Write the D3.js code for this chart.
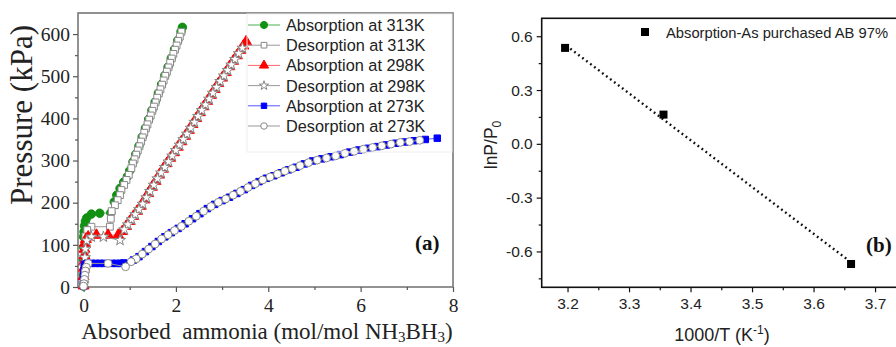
<!DOCTYPE html>
<html><head><meta charset="utf-8">
<script src="https://cdn.jsdelivr.net/npm/d3@7"></script>
<style>body{margin:0;background:#fff}svg{display:block}</style>
</head><body>
<svg id="c" width="896" height="347"></svg>
<script>
// ---------- Panel (a) data: [absorbed ammonia, pressure kPa] ----------
const abs313 = [[0,2],[0,30],[0,65],[0,95],[0,119],[0.01,131],[0.02,145],[0.04,156],[0.07,164],[0.17,173],[0.35,175],[0.59,176],
 [0.665,202],[0.72,218],[0.79,234],[0.87,249],[0.95,262],[1.00,276],[1.07,297],[1.13,315],[1.20,335],[1.27,356],[1.34,377],[1.41,398],
 [1.48,419],[1.55,439],[1.62,460],[1.69,481],[1.76,502],[1.83,522],[1.90,543],[1.97,564],[2.04,585],[2.11,606],[2.14,616]];
const des313 = [[2.12,605],[2.085,594],[2.05,584],[2.015,573],[1.98,563],[1.945,553],[1.91,542],[1.875,532],[1.84,521],[1.805,511],
 [1.77,501],[1.735,490],[1.70,480],[1.665,469],[1.63,459],[1.595,449],[1.56,438],[1.525,428],[1.49,418],[1.455,407],[1.42,397],
 [1.385,386],[1.35,376],[1.315,366],[1.28,355],[1.245,345],[1.21,334],[1.175,324],[1.14,314],[1.105,303],[1.07,293],[1.035,282],
 [0.98,266],[0.93,254],[0.88,242],[0.82,230],[0.79,218],[0.74,206],[0.68,194],[0.61,180],[0.59,162],[0.57,143],[0.17,143],
 [0.08,135],[0.04,120],[0.03,100],[0.02,80],[0.02,60],[0.01,40],[0.01,20],[0,5]];
const abs298 = [[0,3],[0,25],[0.01,45],[0.01,60],[0.02,75],[0.02,90],[0.03,104],[0.05,113],[0.10,119],[0.28,123],[0.53,123],[0.75,123],
 [0.84,132],[0.92,144],[1.00,156],[1.08,168],[1.16,180],[1.24,192],[1.32,207],[1.40,222],[1.48,237],[1.56,251],[1.64,266],[1.72,280],
 [1.80,293],[1.88,306],[1.96,319],[2.04,332],[2.12,345],[2.20,358],[2.28,372],[2.36,386],[2.44,400],[2.52,414],[2.60,428],[2.68,441],
 [2.76,455],[2.84,469],[2.92,483],[3.00,496],[3.08,509],[3.16,523],[3.24,536],[3.32,549],[3.40,562],[3.46,572],[3.52,582]];
const des298 = [[3.44,567],[3.36,554],[3.28,540],[3.20,527],[3.12,514],[3.04,501],[2.96,488],[2.88,474],[2.80,460],[2.72,446],[2.64,432],
 [2.56,419],[2.48,405],[2.40,391],[2.32,377],[2.24,363],[2.16,350],[2.08,337],[2.00,324],[1.92,311],[1.84,297],[1.76,284],[1.68,271],
 [1.60,257],[1.52,242],[1.44,227],[1.36,212],[1.28,197],[1.20,184],[1.12,172],[1.04,160],[0.96,148],[0.88,136],[0.79,111],[0.43,119],
 [0.17,119],[0.07,110],[0.04,90],[0.03,70],[0.02,50],[0.01,30],[0,8]];
const abs273 = [[0,2],[0,14],[0,26],[0.01,38],[0.02,48],[0.03,54],[0.08,56],[0.17,56],[0.26,56],[0.35,56],[0.44,56],[0.62,56],[0.71,56],
 [0.80,56],[0.87,57],[1.08,64],[1.20,72],[1.34,84],[1.48,96],[1.62,108],[1.76,119],[1.90,129],[2.05,139],[2.20,150],[2.36,162],
 [2.52,174],[2.68,186],[2.84,196],[3.00,205],[3.16,213],[3.32,222],[3.48,231],[3.64,241],[3.80,250],[3.96,258],[4.12,264],[4.28,271],
 [4.44,278],[4.60,284],[4.78,292],[4.96,299],[5.16,304],[5.36,309],[5.56,314],[5.76,320],[5.96,325],[6.16,329],[6.36,333],[6.56,337],
 [6.76,341],[6.96,344],[7.16,347],[7.40,350],[7.66,353]];
const des273 = [[7.28,348],[7.06,345],[6.86,343],[6.66,339],[6.46,335],[6.26,331],[6.06,327],[5.86,322],[5.66,317],[5.46,311],[5.26,306],
 [5.06,301],[4.87,295],[4.69,288],[4.52,281],[4.36,275],[4.20,268],[4.04,261],[3.88,254],[3.72,245],[3.56,236],[3.40,227],[3.24,218],
 [3.08,209],[2.92,201],[2.76,191],[2.60,180],[2.44,168],[2.28,156],[2.12,144],[1.97,134],[1.83,124],[1.69,114],[1.55,102],[1.41,90],
 [1.27,78],[1.14,67],[1.03,60],[0.91,48],[0.53,56],[0.10,56],[0.06,47],[0.04,38],[0.03,28],[0.02,18],[0.01,8],[0,2]];
const seriesNames = ["Absorption at 313K","Desorption at 313K","Absorption at 298K","Desorption at 298K","Absorption at 273K","Desorption at 273K"];
const xTicksA = [0,2,4,6,8];
const yTicksA = [0,100,200,300,400,500,600];

// ---------- Panel (b) data ----------
const invT = [3.196, 3.356, 3.661];
const lnP = [0.535, 0.163, -0.670];
const legendB = "Absorption-As purchased AB 97%";
const xTicksB = [3.2,3.3,3.4,3.5,3.6,3.7];
const yTicksB = [-0.6,-0.3,0.0,0.3,0.6];

const svg = d3.select('#c');
const SERIF = "'Liberation Serif','Times New Roman',serif";
const SANS = "'Liberation Sans',Arial,sans-serif";

// ================= Panel (a) =================
const xA = d3.scaleLinear().domain([-0.12,8]).range([78,453]);
const yA = d3.scaleLinear().domain([0,650]).range([287,13]);
const gA = svg.append('g');

gA.append('rect').attr('x',78).attr('y',13).attr('width',375).attr('height',274)
  .attr('fill','none').attr('stroke','#777').attr('stroke-width',1.6);

function styleAxis(g, font, size){
  g.select('.domain').remove();
  g.selectAll('line').attr('stroke','#555').attr('stroke-width',1.2);
  g.selectAll('text').attr('font-family',font).attr('font-size',size).attr('fill','#222');
}
const axXA = gA.append('g').attr('transform','translate(0,287)')
  .call(d3.axisBottom(xA).tickValues(xTicksA).tickSize(5).tickPadding(6).tickFormat(d3.format('d')));
styleAxis(axXA, SERIF, 19.5);
const axXAm = gA.append('g').attr('transform','translate(0,287)')
  .call(d3.axisBottom(xA).tickValues([1,3,5,7]).tickSize(3).tickFormat(''));
styleAxis(axXAm, SERIF, 19.5);
const axYA = gA.append('g').attr('transform','translate(78,0)')
  .call(d3.axisLeft(yA).tickValues(yTicksA).tickSize(5).tickPadding(3).tickFormat(d3.format('d')));
styleAxis(axYA, SERIF, 19.5);
const axYAm = gA.append('g').attr('transform','translate(78,0)')
  .call(d3.axisLeft(yA).tickValues([50,150,250,350,450,550]).tickSize(3).tickFormat(''));
styleAxis(axYAm, SERIF, 19.5);

gA.append('text').attr('transform','translate(32,115) rotate(-90)').attr('text-anchor','middle')
  .attr('font-family',SERIF).attr('font-size',31).attr('fill','#222').text('Pressure (kPa)');
const xt = gA.append('text').attr('x',267).attr('y',339).attr('text-anchor','middle')
  .attr('font-family',SERIF).attr('font-size',23).attr('fill','#222');
xt.append('tspan').text('Absorbed\u00a0 ammonia (mol/mol NH');
xt.append('tspan').attr('font-size',15).attr('dy',3).text('3');
xt.append('tspan').attr('dy',-3).text('BH');
xt.append('tspan').attr('font-size',15).attr('dy',3).text('3');
xt.append('tspan').attr('dy',-3).text(')');

gA.append('text').attr('x',415).attr('y',250).attr('font-family',SERIF).attr('font-weight','bold')
  .attr('font-size',21).attr('fill','#111').text('(a)');

const styles = [
  {data:abs313, line:'#4caf50', type:d3.symbolCircle, size:56, fill:'#129012', stroke:'#129012'},
  {data:des313, line:'#999', type:d3.symbolSquare, size:46, fill:'#fff', stroke:'#888'},
  {data:abs298, line:'#f66', type:d3.symbolTriangle, size:52, fill:'#f00', stroke:'#f00'},
  {data:des298, line:'#999', type:d3.symbolStar, size:38, fill:'#fff', stroke:'#888'},
  {data:abs273, line:'#55f', type:d3.symbolSquare, size:42, fill:'#0000ff', stroke:'#0000ff'},
  {data:des273, line:'#999', type:d3.symbolCircle, size:48, fill:'#fff', stroke:'#888'}
];
const lineA = d3.line().x(d=>xA(d[0])).y(d=>yA(d[1]));
styles.forEach(s=>{
  const g = gA.append('g');
  g.append('path').attr('d',lineA(s.data)).attr('fill','none').attr('stroke',s.line).attr('stroke-width',1);
  g.selectAll('path.m').data(s.data).join('path').attr('class','m')
    .attr('transform',d=>`translate(${xA(d[0])},${yA(d[1])})`)
    .attr('d',d3.symbol().type(s.type).size(s.size))
    .attr('fill',s.fill).attr('stroke',s.stroke).attr('stroke-width',1);
});

const legA = gA.append('g');
legA.append('rect').attr('x',247).attr('y',14).attr('width',205).attr('height',138)
  .attr('fill','none').attr('stroke','#eee').attr('stroke-width',1);
styles.forEach((s,i)=>{
  const y = 25 + i*20.2;
  legA.append('line').attr('x1',248).attr('x2',280).attr('y1',y).attr('y2',y).attr('stroke',s.line).attr('stroke-width',1);
  legA.append('path').attr('transform',`translate(264,${y})`).attr('d',d3.symbol().type(s.type).size(s.size*0.7))
    .attr('fill',s.fill).attr('stroke',s.stroke).attr('stroke-width',1);
  legA.append('text').attr('x',286).attr('y',y+6).attr('font-family',SANS).attr('font-size',16.3)
    .attr('fill','#222').text(seriesNames[i]);
});

// ================= Panel (b) =================
const xB = d3.scaleLinear().domain([3.158,3.75]).range([541.7,905.8]);
const yB = d3.scaleLinear().domain([-0.8,0.7]).range([287.3,18.3]);
const gB = svg.append('g');
gB.append('rect').attr('x',541.7).attr('y',18.3).attr('width',364.1).attr('height',269)
  .attr('fill','none').attr('stroke','#111').attr('stroke-width',1.6);
const fmtB = d=>d3.format('.1f')(d).replace('\u2212','-');
const axXB = gB.append('g').attr('transform','translate(0,287.3)')
  .call(d3.axisBottom(xB).tickValues(xTicksB).tickSize(5).tickPadding(6).tickFormat(fmtB));
styleAxis(axXB, SANS, 15.5);
const axXBm = gB.append('g').attr('transform','translate(0,287.3)')
  .call(d3.axisBottom(xB).tickValues([3.25,3.35,3.45,3.55,3.65]).tickSize(3).tickFormat(''));
styleAxis(axXBm, SANS, 15.5);
const axYB = gB.append('g').attr('transform','translate(541.7,0)')
  .call(d3.axisLeft(yB).tickValues(yTicksB).tickSize(5).tickPadding(4).tickFormat(fmtB));
styleAxis(axYB, SANS, 15.5);
const axYBm = gB.append('g').attr('transform','translate(541.7,0)')
  .call(d3.axisLeft(yB).tickValues([-0.75,-0.45,-0.15,0.15,0.45]).tickSize(3).tickFormat(''));
styleAxis(axYBm, SANS, 15.5);
[axXB,axXBm,axYB,axYBm].forEach(a=>a.selectAll('line').attr('stroke','#111'));

const mx = d3.mean(invT), my = d3.mean(lnP);
const slope = d3.sum(invT.map((x,i)=>(x-mx)*(lnP[i]-my)))/d3.sum(invT.map(x=>(x-mx)*(x-mx)));
const fit = x=>my+slope*(x-mx);
const fx = [d3.min(invT)+0.002, d3.max(invT)-0.006];
gB.append('path').attr('d',d3.line()(fx.map(x=>[xB(x),yB(fit(x))])))
  .attr('fill','none').attr('stroke','#111').attr('stroke-width',2.4).attr('stroke-dasharray','1.8,3.2');
gB.selectAll('rect.pt').data(invT).join('rect').attr('class','pt')
  .attr('x',(d)=>xB(d)-4).attr('y',(d,i)=>yB(lnP[i])-4).attr('width',8).attr('height',8).attr('fill','#000');

gB.append('rect').attr('x',641).attr('y',28).attr('width',8).attr('height',8).attr('fill','#000');
gB.append('text').attr('x',666).attr('y',38).attr('font-family',SANS).attr('font-size',15)
  .attr('textLength',222).attr('lengthAdjust','spacingAndGlyphs').attr('fill','#222').text(legendB);
gB.append('text').attr('x',866).attr('y',252).attr('font-family',SERIF).attr('font-weight','bold')
  .attr('font-size',21).attr('fill','#111').text('(b)');

const yl = gB.append('text').attr('transform','translate(497,145) rotate(-90)').attr('text-anchor','middle')
  .attr('font-family',SANS).attr('font-size',17.5).attr('fill','#222');
yl.append('tspan').text('lnP/P');
yl.append('tspan').attr('font-size',12).attr('dy',4).text('0');
const xl = gB.append('text').attr('x',722).attr('y',341).attr('text-anchor','middle')
  .attr('font-family',SANS).attr('font-size',18).attr('fill','#222');
xl.append('tspan').text('1000/T (K');
xl.append('tspan').attr('font-size',12).attr('dy',-7).text('-1');
xl.append('tspan').attr('dy',7).text(')');
</script>
</body></html>
